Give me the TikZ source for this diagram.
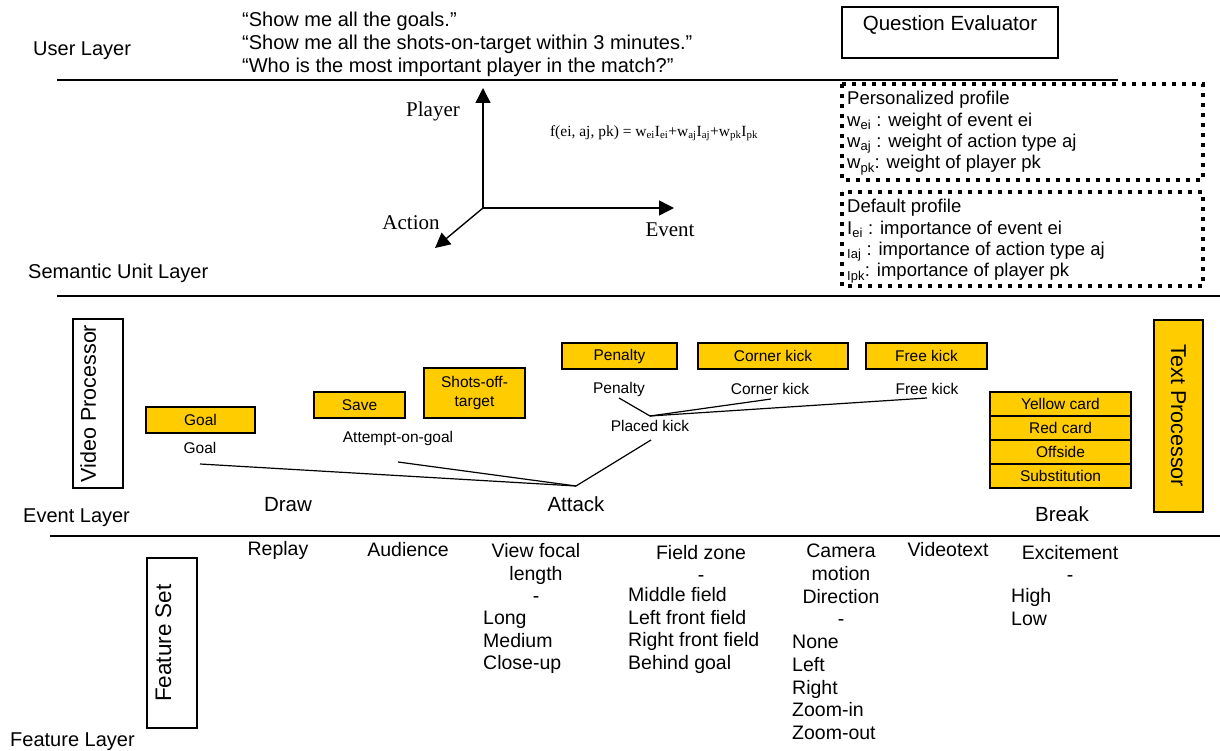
\documentclass[tikz,border=0pt]{standalone}
\usepackage{fontspec}
\setmainfont{Liberation Sans}
\newfontfamily\timesfont{Liberation Serif}
\usetikzlibrary{arrows.meta,positioning}
\definecolor{tagyellow}{RGB}{255,204,0}
\newcommand{\fsz}[2]{\fontsize{#1pt}{#2pt}\selectfont}

\begin{document}
\begin{tikzpicture}[x=1pt, y=-1pt,
    layername/.style={font=\fsz{20}{23}, anchor=west, inner sep=0pt},
    layerline/.style={line width=1.6pt},
    tagbox/.style={draw, line width=1.4pt, fill=tagyellow, font=\fsz{15.5}{19}, inner sep=0pt, minimum height=26pt, align=center},
    tagtext/.style={font=\fsz{15.5}{18}, inner sep=0pt},
    bigtext/.style={font=\fsz{20.5}{23}, inner sep=0pt},
    procbox/.style={draw, line width=1.4pt, font=\fsz{21.5}{24}, inner sep=0pt},
    axisarrow/.style={line width=1.4pt, -{Triangle[length=15pt, width=15pt]}},
    axislab/.style={font=\timesfont\fsz{21}{24}, inner sep=0pt},
    dotframe/.style={line width=4pt, dash pattern=on 4pt off 6pt},
    proftext/.style={font=\fsz{18.5}{21}, anchor=west, inner sep=0pt},
    link/.style={line width=1.2pt},
    feat/.style={font=\fsz{19.5}{22.7}, inner sep=0pt, align=center},
    featlist/.style={font=\fsz{19.5}{22.7}, inner sep=0pt, align=left, anchor=west}]
\useasboundingbox (0,0) rectangle (1220,751);

% Layer separators
\draw[layerline] (57,80) -- (1118,80);
\draw[layerline] (57,296) -- (1220,296);
\draw[layerline] (50,536) -- (1220,536);

% Layer names
\node[layername] (userlayer) at (33,51) {User Layer};
\node[layername] (semlayer) at (28,273) {Semantic Unit Layer};
\node[layername] (evlayer) at (23,518) {Event Layer};
\node[layername] (featlayer) at (10,742) {Feature Layer};

% User layer
\node[font=\fsz{20}{23}, align=left, anchor=west, inner sep=0pt] (queries) at (242,44)
    {“Show me all the goals.”\\“Show me all the shots-on-target within 3 minutes.”\\“Who is the most important player in the match?”};
\node[draw, line width=1.4pt, font=\fsz{20.5}{23}, minimum width=216pt, text height=22pt, text depth=26pt,
    inner xsep=0pt, inner ysep=1.5pt] (qeval) at (950,32.5) {Question Evaluator};

% Semantic unit layer
\coordinate (origin) at (483,208);
\coordinate (playertip) at (483,88);
\coordinate (eventtip) at (674,208);
\coordinate (actiontip) at (435,248);
\draw[axisarrow] (origin) -- (playertip);
\draw[axisarrow] (origin) -- (eventtip);
\draw[axisarrow] (origin) -- (actiontip);
\node[axislab] (player) at (433,111) {Player};
\node[axislab] (action) at (411,223) {Action};
\node[axislab] (event) at (670,230) {Event};
\node[font=\timesfont\fsz{15.5}{18}, inner sep=0pt] (formula) at (654,133)
    {f(ei, aj, pk) = w\textsubscript{ei}I\textsubscript{ei}+w\textsubscript{aj}I\textsubscript{aj}+w\textsubscript{pk}I\textsubscript{pk}};

% Profiles
\draw[dotframe] (842,84) rectangle (1203,180);
\draw[dotframe] (842,192) rectangle (1203,286);
\foreach \txt [count=\i from 0] in {Personalized profile, w\textsubscript{ei} : weight of event ei,
    w\textsubscript{aj} : weight of action type aj, w\textsubscript{pk}: weight of player pk}
  \node[proftext] (pers\i) at (847,{100+21.7*\i}) {\txt};
\foreach \txt [count=\i from 0] in {Default profile, I\textsubscript{ei} : importance of event ei,
    \textsubscript{Iaj} : importance of action type aj, \textsubscript{Ipk}: importance of player pk}
  \node[proftext] (def\i) at (847,{208+21.7*\i}) {\txt};

% Event layer
\node[procbox, rotate=90, minimum width=169pt, minimum height=50pt, text height=15.5pt, text depth=20pt] (vproc) at (98,403.5) {Video Processor};
\node[procbox, fill=tagyellow, rotate=-90, minimum width=192pt, minimum height=49pt] (tproc) at (1178.5,416) {Text Processor};

\node[tagbox, minimum width=109pt] (goalbox) at (200.5,420) {Goal};
\node[tagbox, minimum width=91pt] (savebox) at (359.5,405) {Save};
\node[tagbox, minimum width=101pt, minimum height=50pt] (shotsbox) at (474.5,393) {Shots-off-\\target};
\node[tagbox, minimum width=115pt] (penbox) at (619.5,356) {Penalty};
\node[tagbox, minimum width=150pt] (cornbox) at (773,356) {Corner kick};
\node[tagbox, minimum width=121pt] (freebox) at (926.5,356) {Free kick};
\foreach \lab [count=\i from 0] in {Yellow card, Red card, Offside, Substitution}
  \node[tagbox, minimum width=141pt, minimum height=24pt] (brk\i) at (1060.5,{404+24*\i}) {\lab};

\node[tagtext] (goallab) at (200,448) {Goal};
\node[tagtext] (attemptlab) at (398,438) {Attempt-on-goal};
\node[tagtext] (penlab) at (619,389) {Penalty};
\node[tagtext] (cornlab) at (770,389) {Corner kick};
\node[tagtext] (freelab) at (927,389) {Free kick};
\node[tagtext] (placedlab) at (650,426) {Placed kick};
\node[bigtext] (drawlab) at (288,505) {Draw};
\node[bigtext] (attacklab) at (576,504) {Attack};
\node[bigtext] (breaklab) at (1062,514) {Break};

% Event hierarchy
\coordinate (attackj) at (576,486);
\coordinate (placedj) at (650,416);
\coordinate (goalj) at (200,464);
\coordinate (attemptj) at (398,462);
\coordinate (placedbot) at (651,440);
\coordinate (penj) at (619,398);
\coordinate (cornj) at (771,399);
\coordinate (freej) at (927,398);
\foreach \src in {goalj, attemptj, placedbot}
  \draw[link] (\src) -- (attackj);
\foreach \src in {penj, cornj, freej}
  \draw[link] (\src) -- (placedj);

% Feature layer
\node[procbox, rotate=90, minimum width=170pt, minimum height=50pt, font=\fsz{22.5}{25}, text height=16pt, text depth=18pt] (fset) at (172,643) {Feature Set};
\node[feat] (replay) at (278,550) {Replay};
\node[feat] (audience) at (408,550) {Audience};
\node[feat] (vfocal) at (536,573) {View focal\\length\\-};
\node[featlist] (vfocalvals) at (483,642.5) {Long\\Medium\\Close-up};
\node[feat] (fzone) at (701,563.5) {Field zone\\-};
\node[featlist] (fzonevals) at (628,630.5) {Middle field\\Left front field\\Right front field\\Behind goal};
\node[feat] (camera) at (841,585) {Camera\\motion\\Direction\\-};
\node[featlist] (cameravals) at (792,687.5) {None\\Left\\Right\\Zoom-in\\Zoom-out};
\node[feat] (vtext) at (948,550) {Videotext};
\node[feat] (excite) at (1070,563.5) {Excitement\\-};
\node[featlist] (excitevals) at (1011,607) {High\\Low};
\end{tikzpicture}
\end{document}
